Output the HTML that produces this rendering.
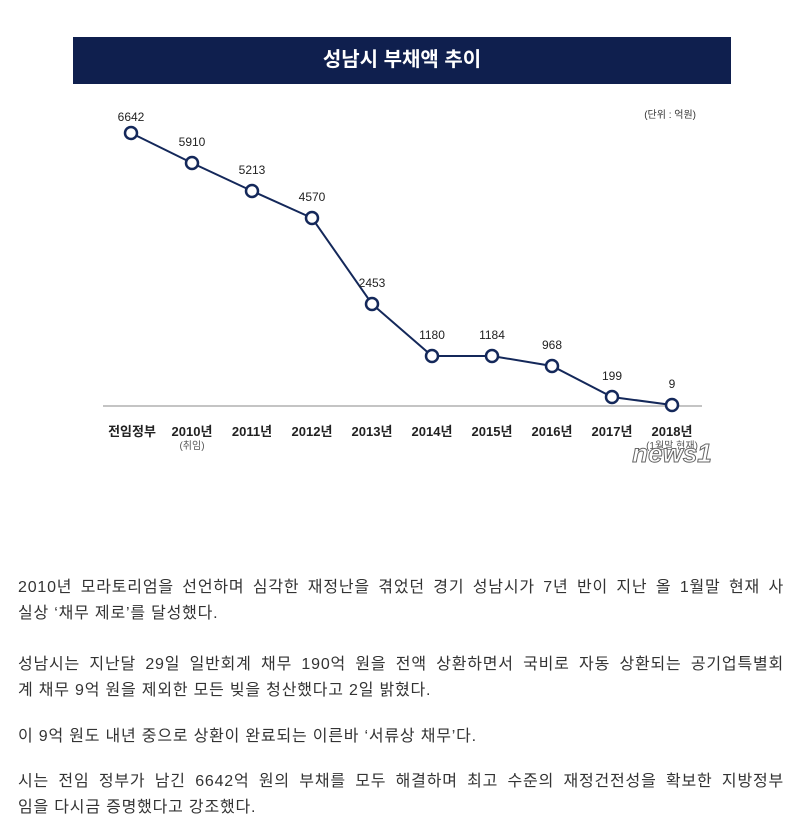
<!DOCTYPE html>
<html><head><meta charset="utf-8"><style>
body{margin:0;width:793px;height:831px;background:#fff;overflow:hidden;font-family:"Liberation Sans","Noto Sans CJK KR",sans-serif;}
.l{position:absolute;left:18px;width:766px;font-size:16px;line-height:26px;color:#333;white-space:nowrap;letter-spacing:0.8px}
.j{text-align:justify;text-align-last:justify;white-space:normal}
</style></head><body>
<div style="position:absolute;left:73px;top:37px;width:658px;height:47px;background:#0f1f4e;color:#fff;font-weight:bold;font-size:20px;text-align:center;line-height:47px;">성남시 부채액 추이</div>
<svg style="position:absolute;left:0;top:0" width="793" height="500" font-family="Liberation Sans, Noto Sans CJK KR, sans-serif">
<text x="696" y="118" font-size="10" fill="#333" text-anchor="end">(단위 : 억원)</text>
<line x1="103" y1="406" x2="702" y2="406" stroke="#888" stroke-width="1"/>
<polyline fill="none" stroke="#14285a" stroke-width="2" points="131,133 192,163 252,191 312,218 372,304 432,356 492,356 552,366 612,397 672,405"/>
<g fill="#fff" stroke="#14285a" stroke-width="2.5">
<circle cx="131" cy="133" r="6"/><circle cx="192" cy="163" r="6"/><circle cx="252" cy="191" r="6"/><circle cx="312" cy="218" r="6"/><circle cx="372" cy="304" r="6"/><circle cx="432" cy="356" r="6"/><circle cx="492" cy="356" r="6"/><circle cx="552" cy="366" r="6"/><circle cx="612" cy="397" r="6"/><circle cx="672" cy="405" r="6"/>
</g>
<g font-size="12" fill="#222" text-anchor="middle">
<text x="131" y="121">6642</text><text x="192" y="146">5910</text><text x="252" y="174">5213</text><text x="312" y="201">4570</text><text x="372" y="287">2453</text><text x="432" y="339">1180</text><text x="492" y="339">1184</text><text x="552" y="349">968</text><text x="612" y="380">199</text><text x="672" y="388">9</text>
</g>
<g font-size="13" font-weight="bold" fill="#222" text-anchor="middle">
<text x="132" y="436">전임정부</text><text x="192" y="436">2010년</text><text x="252" y="436">2011년</text><text x="312" y="436">2012년</text><text x="372" y="436">2013년</text><text x="432" y="436">2014년</text><text x="492" y="436">2015년</text><text x="552" y="436">2016년</text><text x="612" y="436">2017년</text><text x="672" y="436">2018년</text>
</g>
<text x="192" y="449" font-size="10" fill="#555" text-anchor="middle">(취임)</text>
<text x="672" y="449" font-size="10" fill="#555" text-anchor="middle">(1월말 현재)</text>
<text x="672" y="462" font-size="26" font-style="italic" font-weight="bold" fill="#fff" stroke="#666" stroke-width="1" text-anchor="middle">news1</text>
</svg>
<div class="l j" style="top:575px">2010년 모라토리엄을 선언하며 심각한 재정난을 겪었던 경기 성남시가 7년 반이 지난 올 1월말 현재 사</div>
<div class="l" style="top:601px">실상 ‘채무 제로’를 달성했다.</div>
<div class="l j" style="top:652px">성남시는 지난달 29일 일반회계 채무 190억 원을 전액 상환하면서 국비로 자동 상환되는 공기업특별회</div>
<div class="l" style="top:678px">계 채무 9억 원을 제외한 모든 빚을 청산했다고 2일 밝혔다.</div>
<div class="l" style="top:724px">이 9억 원도 내년 중으로 상환이 완료되는 이른바 ‘서류상 채무’다.</div>
<div class="l j" style="top:769px">시는 전임 정부가 남긴 6642억 원의 부채를 모두 해결하며 최고 수준의 재정건전성을 확보한 지방정부</div>
<div class="l" style="top:795px">임을 다시금 증명했다고 강조했다.</div>
</body></html>
